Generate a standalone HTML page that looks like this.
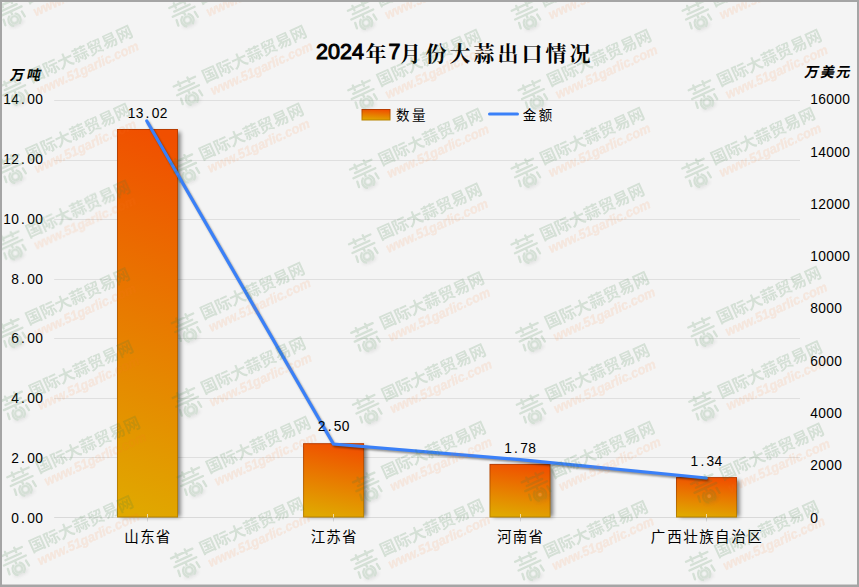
<!DOCTYPE html>
<html lang="zh"><head><meta charset="utf-8"><title>2024年7月份大蒜出口情况</title>
<style>html,body{margin:0;padding:0;background:#f4f4f4;}body{width:859px;height:587px;overflow:hidden;font-family:"Liberation Sans",sans-serif;}svg{display:block}text{font-family:"Liberation Sans",sans-serif;}</style></head><body>
<svg width="859" height="587" viewBox="0 0 859 587">
<defs>
<linearGradient id="bg" gradientUnits="objectBoundingBox" x1="0.58" y1="0" x2="0.42" y2="1"><stop offset="0" stop-color="#f04f00"/><stop offset="1" stop-color="#e0a800"/></linearGradient>
<linearGradient id="bg1" x1="0.53" y1="0" x2="0.47" y2="1"><stop offset="0" stop-color="#f04f00"/><stop offset="1" stop-color="#e0a800"/></linearGradient>
<linearGradient id="bs" x1="0" y1="0" x2="0" y2="1"><stop offset="0" stop-color="#b83c00"/><stop offset="1" stop-color="#b88400"/></linearGradient>
<filter id="sh" x="-20%" y="-20%" width="150%" height="140%"><feGaussianBlur stdDeviation="2"/></filter>
<filter id="lsh" x="-5%" y="-5%" width="110%" height="110%"><feGaussianBlur stdDeviation="0.9"/></filter>
<filter id="wblur" x="0" y="0" width="100%" height="100%" filterUnits="userSpaceOnUse"><feGaussianBlur stdDeviation="0.45"/></filter>
<filter id="glow" x="-30%" y="-30%" width="160%" height="160%"><feGaussianBlur stdDeviation="1.5"/></filter>
<g id="wm"><ellipse cx="0.5" cy="13" rx="8" ry="3.2" fill="#555" opacity=".5" filter="url(#glow)"/><ellipse cx="0" cy="8.4" rx="6.6" ry="6" fill="#3a7d42" opacity=".4"/><g fill="none" stroke="#3a7d42" stroke-width="2.3" stroke-linecap="round"><path d="M-11.5 -10.2H12M-5.4 -12.7V-7.8M4.7 -12.7V-7.8M-8.5 -4.9H8.5M-12 -0.8H12M0 -0.8V2.2"/><path d="M-9.9 3.9L-10.6 9.6M10.1 3.9L10.8 9.6"/><path d="M-3.6 3.2A6.4 6.4 0 0 0 -3.6 13.6M3.6 3.2A6.4 6.4 0 0 1 3.6 13.6" stroke-width="2.1"/><circle cx="0" cy="8.4" r="3.6" stroke-width="1.8"/></g><circle cx="0" cy="8.4" r="1.8" fill="#fff" opacity=".8"/><text x="18.8" y="-0.3" font-size="16.2" font-weight="bold" fill="#3a7d42" textLength="113" lengthAdjust="spacingAndGlyphs" style="font-family:'Liberation Sans','Noto Sans CJK SC',sans-serif;">国际大蒜贸易网</text><text x="20.7" y="14.2" font-size="13.5" font-weight="bold" font-style="italic" fill="#ff7a2a" stroke="#ff7a2a" stroke-width=".35" opacity=".66" textLength="110.7" lengthAdjust="spacingAndGlyphs">www.51garlic.com</text></g>
</defs>
<rect x="0" y="0" width="859" height="587" fill="#a5a5a5"/>
<rect x="2" y="2" width="855" height="582.7" fill="#f4f4f4"/>
<rect x="54.2" y="517" width="745.8" height="1" fill="#d9d9d9"/>
<rect x="54.2" y="457" width="745.8" height="1" fill="#dfdfdf"/>
<rect x="54.2" y="398" width="745.8" height="1" fill="#dfdfdf"/>
<rect x="54.2" y="338" width="745.8" height="1" fill="#dfdfdf"/>
<rect x="54.2" y="279" width="745.8" height="1" fill="#dfdfdf"/>
<rect x="54.2" y="219" width="745.8" height="1" fill="#dfdfdf"/>
<rect x="54.2" y="160" width="745.8" height="1" fill="#dfdfdf"/>
<rect x="54.2" y="100" width="745.8" height="1" fill="#dfdfdf"/>
<rect x="147" y="514" width="1" height="7.5" fill="#d9d9d9"/>
<rect x="333" y="514" width="1" height="7.5" fill="#d9d9d9"/>
<rect x="520" y="514" width="1" height="7.5" fill="#d9d9d9"/>
<rect x="706" y="514" width="1" height="7.5" fill="#d9d9d9"/>
<rect x="120.5" y="132.0" width="60.0" height="385.0" fill="#000" opacity=".5" filter="url(#sh)"/>
<rect x="306.6" y="446.2" width="60.0" height="70.8" fill="#000" opacity=".5" filter="url(#sh)"/>
<rect x="493.0" y="466.9" width="60.0" height="50.1" fill="#000" opacity=".5" filter="url(#sh)"/>
<rect x="679.5" y="480.1" width="60.0" height="36.9" fill="#000" opacity=".5" filter="url(#sh)"/>
<rect x="117.5" y="129.5" width="60.0" height="387.5" fill="url(#bg1)" stroke="url(#bs)" stroke-width="1"/>
<rect x="147" y="514" width="1" height="3.5" fill="#f0dca6"/>
<rect x="303.6" y="443.7" width="60.0" height="73.3" fill="url(#bg)" stroke="url(#bs)" stroke-width="1"/>
<rect x="333" y="514" width="1" height="3.5" fill="#f0dca6"/>
<rect x="490.0" y="464.4" width="60.0" height="52.6" fill="url(#bg)" stroke="url(#bs)" stroke-width="1"/>
<rect x="520" y="514" width="1" height="3.5" fill="#f0dca6"/>
<rect x="676.5" y="477.6" width="60.0" height="39.4" fill="url(#bg)" stroke="url(#bs)" stroke-width="1"/>
<rect x="706" y="514" width="1" height="3.5" fill="#f0dca6"/>
<polyline points="146.8,121.0 333.4,444.0 520.0,459.7 706.2,478.0" fill="none" stroke="#000" stroke-opacity=".5" stroke-width="2.6" stroke-linejoin="round" stroke-linecap="round" transform="translate(1.3,1.7)" filter="url(#lsh)"/>
<polyline points="146.8,121.0 333.4,444.0 520.0,459.7 706.2,478.0" fill="none" stroke="#3a80f8" stroke-width="3.2" stroke-linejoin="miter" stroke-linecap="round"/>
<text transform="scale(0.90,1)" x="16.67 25.56 34.44 43.33" y="522.9" font-size="15.3" text-anchor="middle" fill="#000">0.00</text>
<text transform="scale(0.90,1)" x="16.67 25.56 34.44 43.33" y="463.1" font-size="15.3" text-anchor="middle" fill="#000">2.00</text>
<text transform="scale(0.90,1)" x="16.67 25.56 34.44 43.33" y="403.3" font-size="15.3" text-anchor="middle" fill="#000">4.00</text>
<text transform="scale(0.90,1)" x="16.67 25.56 34.44 43.33" y="343.5" font-size="15.3" text-anchor="middle" fill="#000">6.00</text>
<text transform="scale(0.90,1)" x="16.67 25.56 34.44 43.33" y="283.7" font-size="15.3" text-anchor="middle" fill="#000">8.00</text>
<text transform="scale(0.90,1)" x="7.78 16.67 25.56 34.44 43.33" y="223.9" font-size="15.3" text-anchor="middle" fill="#000">10.00</text>
<text transform="scale(0.90,1)" x="7.78 16.67 25.56 34.44 43.33" y="164.1" font-size="15.3" text-anchor="middle" fill="#000">12.00</text>
<text transform="scale(0.90,1)" x="7.78 16.67 25.56 34.44 43.33" y="104.3" font-size="15.3" text-anchor="middle" fill="#000">14.00</text>
<text transform="scale(0.90,1)" x="904.44" y="522.7" font-size="15.3" text-anchor="middle" fill="#000">0</text>
<text transform="scale(0.90,1)" x="904.44 913.33 922.22 931.11" y="470.4" font-size="15.3" text-anchor="middle" fill="#000">2000</text>
<text transform="scale(0.90,1)" x="904.44 913.33 922.22 931.11" y="418.1" font-size="15.3" text-anchor="middle" fill="#000">4000</text>
<text transform="scale(0.90,1)" x="904.44 913.33 922.22 931.11" y="365.8" font-size="15.3" text-anchor="middle" fill="#000">6000</text>
<text transform="scale(0.90,1)" x="904.44 913.33 922.22 931.11" y="313.5" font-size="15.3" text-anchor="middle" fill="#000">8000</text>
<text transform="scale(0.90,1)" x="904.44 913.33 922.22 931.11 940.00" y="261.2" font-size="15.3" text-anchor="middle" fill="#000">10000</text>
<text transform="scale(0.90,1)" x="904.44 913.33 922.22 931.11 940.00" y="208.9" font-size="15.3" text-anchor="middle" fill="#000">12000</text>
<text transform="scale(0.90,1)" x="904.44 913.33 922.22 931.11 940.00" y="156.6" font-size="15.3" text-anchor="middle" fill="#000">14000</text>
<text transform="scale(0.90,1)" x="904.44 913.33 922.22 931.11 940.00" y="104.3" font-size="15.3" text-anchor="middle" fill="#000">16000</text>
<text transform="scale(0.90,1)" x="146.11 155.00 163.89 172.78 181.67" y="117.8" font-size="15.3" text-anchor="middle" fill="#000">13.02</text>
<text transform="scale(0.90,1)" x="357.39 366.28 375.17 384.06" y="430.6" font-size="15.3" text-anchor="middle" fill="#000">2.50</text>
<text transform="scale(0.90,1)" x="564.50 573.39 582.28 591.17" y="452.7" font-size="15.3" text-anchor="middle" fill="#000">1.78</text>
<text transform="scale(0.90,1)" x="771.61 780.50 789.39 798.28" y="465.6" font-size="15.3" text-anchor="middle" fill="#000">1.34</text>
<text x="131.5 147.5 163" y="541.8" font-size="14.5" text-anchor="middle" fill="#000" style="font-family:'Liberation Sans','Noto Sans CJK SC',sans-serif;">山东省</text>
<text x="318 333.6 349.3" y="541.8" font-size="14.5" text-anchor="middle" fill="#000" style="font-family:'Liberation Sans','Noto Sans CJK SC',sans-serif;">江苏省</text>
<text x="504.3 520 535.7" y="541.8" font-size="14.5" text-anchor="middle" fill="#000" style="font-family:'Liberation Sans','Noto Sans CJK SC',sans-serif;">河南省</text>
<text x="658 674.5 690.4 706.4 722.3 738.4 754.5" y="541.8" font-size="14.5" text-anchor="middle" fill="#000" style="font-family:'Liberation Sans','Noto Sans CJK SC',sans-serif;">广西壮族自治区</text>
<rect x="362" y="109.5" width="28" height="10.5" fill="url(#bg)" stroke="url(#bs)" stroke-width="1"/>
<text x="402.8 418.7" y="119.8" font-size="13.5" text-anchor="middle" fill="#000" style="font-family:'Liberation Sans','Noto Sans CJK SC',sans-serif;">数量</text>
<line x1="489.5" y1="114" x2="517.5" y2="114" stroke="#3a80f8" stroke-width="3" stroke-linecap="round"/>
<text x="529.5 545.5" y="119.8" font-size="13.5" text-anchor="middle" fill="#000" style="font-family:'Liberation Sans','Noto Sans CJK SC',sans-serif;">金额</text>
<text transform="translate(8.6,79.5) skewX(-12)" x="8 24.4" y="0" font-size="14" font-weight="bold" text-anchor="middle" fill="#000" style="font-family:'Liberation Sans','Noto Sans CJK SC',sans-serif;">万吨</text>
<text transform="translate(803.0,77.3) skewX(-12)" x="8 24 39.6" y="0" font-size="14" font-weight="bold" text-anchor="middle" fill="#000" style="font-family:'Liberation Sans','Noto Sans CJK SC',sans-serif;">万美元</text>
<text x="322.0 334.0 346.0 358.0" y="59.3" font-size="21.5" text-anchor="middle" fill="#000" stroke="#000" stroke-width="1">2024</text>
<text x="376" y="61" font-size="21" font-weight="bold" text-anchor="middle" fill="#000" style="font-family:'Liberation Serif','Noto Serif CJK SC',serif;">年</text>
<text x="394.5" y="59.3" font-size="21.5" text-anchor="middle" fill="#000" stroke="#000" stroke-width="1">7</text>
<text x="410.5 436 460 484 508 532 556 580" y="61" font-size="21" font-weight="bold" text-anchor="middle" fill="#000" style="font-family:'Liberation Serif','Noto Serif CJK SC',serif;">月份大蒜出口情况</text>
<g opacity=".17" filter="url(#wblur)">
<use href="#wm" transform="translate(11.0,12.1) rotate(-24.6)"/>
<use href="#wm" transform="translate(184.0,12.5) rotate(-24.6)"/>
<use href="#wm" transform="translate(362.6,15.2) rotate(-24.6)"/>
<use href="#wm" transform="translate(526.4,15.2) rotate(-24.6)"/>
<use href="#wm" transform="translate(697.3,15.2) rotate(-24.6)"/>
<use href="#wm" transform="translate(14.5,91.0) rotate(-24.6)"/>
<use href="#wm" transform="translate(188.4,91.0) rotate(-24.6)"/>
<use href="#wm" transform="translate(363.0,94.8) rotate(-24.6)"/>
<use href="#wm" transform="translate(533.3,94.8) rotate(-24.6)"/>
<use href="#wm" transform="translate(703.4,94.8) rotate(-24.6)"/>
<use href="#wm" transform="translate(12.0,169.0) rotate(-24.6)"/>
<use href="#wm" transform="translate(185.4,168.6) rotate(-24.6)"/>
<use href="#wm" transform="translate(364.7,174.0) rotate(-24.6)"/>
<use href="#wm" transform="translate(526.3,173.0) rotate(-24.6)"/>
<use href="#wm" transform="translate(697.0,173.0) rotate(-24.6)"/>
<use href="#wm" transform="translate(11.8,245.6) rotate(-24.6)"/>
<use href="#wm" transform="translate(363.7,248.7) rotate(-24.6)"/>
<use href="#wm" transform="translate(526.2,249.0) rotate(-24.6)"/>
<use href="#wm" transform="translate(11.8,333.4) rotate(-24.6)"/>
<use href="#wm" transform="translate(186.5,327.8) rotate(-24.6)"/>
<use href="#wm" transform="translate(366.0,337.4) rotate(-24.6)"/>
<use href="#wm" transform="translate(531.0,337.2) rotate(-24.6)"/>
<use href="#wm" transform="translate(703.0,332.0) rotate(-24.6)"/>
<use href="#wm" transform="translate(15.2,405.9) rotate(-24.6)"/>
<use href="#wm" transform="translate(187.4,402.5) rotate(-24.6)"/>
<use href="#wm" transform="translate(367.7,409.3) rotate(-24.6)"/>
<use href="#wm" transform="translate(531.5,409.3) rotate(-24.6)"/>
<use href="#wm" transform="translate(704.0,406.3) rotate(-24.6)"/>
<use href="#wm" transform="translate(22.0,481.8) rotate(-24.6)"/>
<use href="#wm" transform="translate(192.4,481.8) rotate(-24.6)"/>
<use href="#wm" transform="translate(367.7,486.9) rotate(-24.6)"/>
<use href="#wm" transform="translate(536.5,486.9) rotate(-24.6)"/>
<use href="#wm" transform="translate(705.7,488.6) rotate(-24.6)"/>
<use href="#wm" transform="translate(15.2,561.2) rotate(-24.6)"/>
<use href="#wm" transform="translate(185.7,562.9) rotate(-24.6)"/>
<use href="#wm" transform="translate(366.0,564.6) rotate(-24.6)"/>
<use href="#wm" transform="translate(529.8,566.2) rotate(-24.6)"/>
<use href="#wm" transform="translate(700.7,566.2) rotate(-24.6)"/>
</g>
<path d="M0 0H859 V587 H0Z M2 2 V584.7 H857 V2Z" fill="#a5a5a5" fill-rule="evenodd"/>
</svg></body></html>
